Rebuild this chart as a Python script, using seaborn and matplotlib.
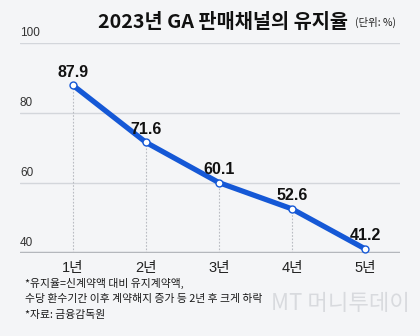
import matplotlib
matplotlib.use("Agg")
import matplotlib.pyplot as plt
import seaborn as sns
import pandas as pd

years = ["1년", "2년", "3년", "4년", "5년"]
retention = [87.9, 71.6, 60.1, 52.6, 41.2]
y_ticks = [40, 60, 80, 100]

title = "2023년 GA 판매채널의 유지율"
unit = "(단위: %)"
notes = [
    "*유지율=신계약액 대비 유지계약액,",
    "수당 환수기간 이후 계약해지 증가 등 2년 후 크게 하락",
    "*자료: 금융감독원",
]

sns.set_theme(style="white")
FONTS = ["Liberation Sans", "Noto Sans CJK KR", "DejaVu Sans"]
plt.rcParams["font.family"] = FONTS

BG = "#f4f5f7"
BLUE = "#1558d6"

df = pd.DataFrame({"year": years, "rate": retention})

fig = plt.figure(figsize=(4.2, 3.36), dpi=100, facecolor=BG)
ax = fig.add_axes([20 / 420, 1 - 253 / 336, 380 / 420, 210 / 336])
ax.set_facecolor(BG)

sns.lineplot(data=df, x="year", y="rate", ax=ax, color=BLUE, linewidth=3.8,
             marker="o", markersize=5, markerfacecolor="white",
             markeredgecolor=BLUE, markeredgewidth=1.0, zorder=4)

ax.set_ylim(40, 100)
ax.set_xlim(-0.726, 4.48)

# horizontal gridlines with labels sitting on top of them
for v in y_ticks:
    if v == 40:
        ax.axhline(v, color="#b4b7bc", linewidth=2.5, zorder=2)
    else:
        ax.axhline(v, color="#d3d6db", linewidth=1.0, zorder=1)
    ax.annotate(str(v), xy=(0, v), xycoords=("axes fraction", "data"),
                xytext=(0, 3), textcoords="offset points",
                ha="left", va="bottom", fontsize=8.5, color="#333333")

# dotted drop lines from each point to the baseline
for i, v in enumerate(retention):
    ax.plot([i, i], [40, v], color="#b9bcc2", linewidth=0.8,
            linestyle=(0, (1.5, 1.5)), zorder=1)
    ax.annotate(f"{v}", xy=(i, v), xytext=(0, 4), textcoords="offset points",
                ha="center", va="bottom", fontsize=11.5, fontweight="bold",
                color="#111111", zorder=5)

ax.set_xticks(range(len(years)))
ax.set_xticklabels(years, fontsize=10.5, color="#222222")
ax.tick_params(axis="x", length=0, pad=6)
ax.set_yticks([])
ax.set_xlabel("")
ax.set_ylabel("")
for s in ax.spines.values():
    s.set_visible(False)

fig.text(348 / 420, 1 - 22 / 336, title, ha="right", va="center",
         fontsize=14.2, fontweight="bold", color="#111111",
         family=["Noto Sans CJK KR", "DejaVu Sans"])
fig.text(355 / 420, 1 - 22 / 336, unit, ha="left", va="center",
         fontsize=7.5, color="#222222",
         family=["Noto Sans CJK KR", "DejaVu Sans"])

# watermark in the lower right corner
fig.text(410 / 420, 1 - 304 / 336, "MT 머니투데이", ha="right", va="center",
         fontsize=16, color="#d4d6da", alpha=0.85,
         family=["Noto Sans CJK KR", "DejaVu Sans"], zorder=0)

for k, line in enumerate(notes):
    fig.text(25 / 420, 1 - (283 + 16 * k) / 336, line, ha="left", va="center",
             fontsize=7.8, color="#1a1a1a",
             family=["Noto Sans CJK KR", "DejaVu Sans"], zorder=2)

fig.savefig("out.png", dpi=100, facecolor=BG)
